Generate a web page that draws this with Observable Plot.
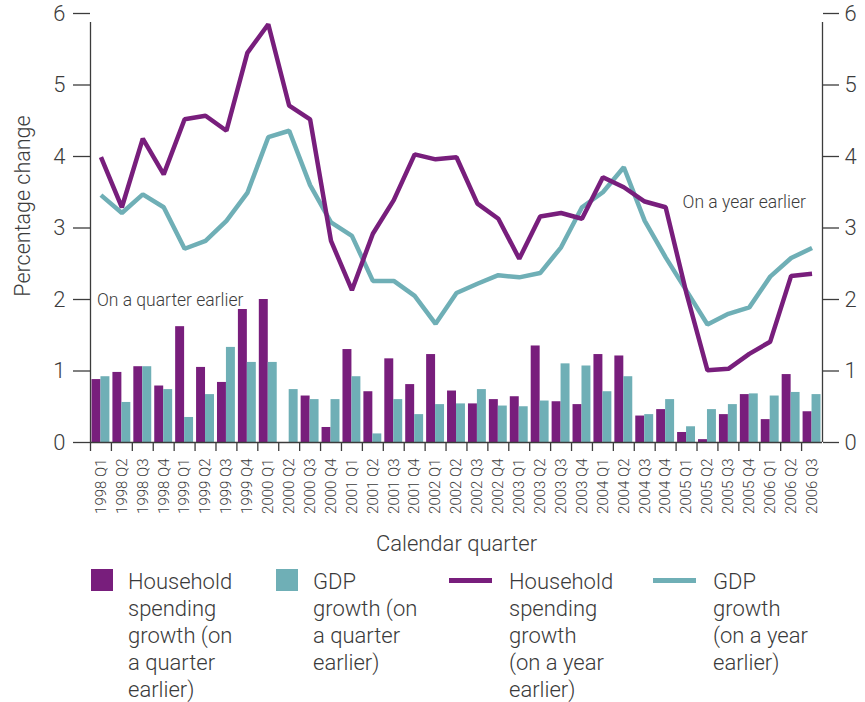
<!DOCTYPE html>
<html>
<head>
<meta charset="utf-8">
<script src="https://cdn.jsdelivr.net/npm/d3@7"></script>
<script src="https://cdn.jsdelivr.net/npm/@observablehq/plot@0.6"></script>
<style>
  html, body { margin: 0; padding: 0; background: #fff; }
  #wrap { position: relative; width: 865px; height: 702px; font-family: Roboto, "Liberation Sans", sans-serif; font-weight: 300; color: #3a3a3a; }
  .leg { position: absolute; top: 568px; font-size: 22px; line-height: 27px; }
  .leg .sw { position: absolute; }
  .leg .tx { position: absolute; top: 0; white-space: pre; }
</style>
</head>
<body>
<div id="wrap"><div id="chart"></div><div id="legend"></div></div>
<script>
const quarters = [
  "1998 Q1","1998 Q2","1998 Q3","1998 Q4",
  "1999 Q1","1999 Q2","1999 Q3","1999 Q4",
  "2000 Q1","2000 Q2","2000 Q3","2000 Q4",
  "2001 Q1","2001 Q2","2001 Q3","2001 Q4",
  "2002 Q1","2002 Q2","2002 Q3","2002 Q4",
  "2003 Q1","2003 Q2","2003 Q3","2003 Q4",
  "2004 Q1","2004 Q2","2004 Q3","2004 Q4",
  "2005 Q1","2005 Q2","2005 Q3","2005 Q4",
  "2006 Q1","2006 Q2","2006 Q3"
];
// Household spending growth, on a quarter earlier (bars)
const householdQuarter = [0.88,0.98,1.06,0.79, 1.62,1.05,0.84,1.86, 2.00,0.00,0.65,0.21, 1.30,0.71,1.17,0.81, 1.23,0.72,0.54,0.60, 0.64,1.35,0.57,0.53, 1.23,1.21,0.37,0.46, 0.14,0.04,0.39,0.67, 0.32,0.95,0.43];
// GDP growth, on a quarter earlier (bars)
const gdpQuarter = [0.92,0.56,1.06,0.74, 0.35,0.67,1.33,1.12, 1.12,0.74,0.60,0.60, 0.92,0.12,0.60,0.39, 0.53,0.54,0.74,0.51, 0.50,0.58,1.10,1.07, 0.71,0.92,0.39,0.60, 0.22,0.46,0.53,0.68, 0.65,0.70,0.67];
// Household spending growth, on a year earlier (line)
const householdYear = [3.99,3.29,4.25,3.75, 4.52,4.57,4.36,5.45, 5.85,4.71,4.52,2.82, 2.13,2.92,3.39,4.03, 3.96,3.99,3.34,3.13, 2.57,3.16,3.21,3.13, 3.71,3.57,3.37,3.29, 2.08,1.01,1.03,1.24, 1.41,2.33,2.36];
// GDP growth, on a year earlier (line)
const gdpYear = [3.46,3.21,3.47,3.29, 2.71,2.82,3.10,3.49, 4.27,4.36,3.60,3.08, 2.89,2.26,2.26,2.05, 1.66,2.09,2.22,2.34, 2.31,2.37,2.73,3.29, 3.50,3.85,3.10,2.59, 2.12,1.65,1.80,1.89, 2.32,2.58,2.72];
const yTicks = [0,1,2,3,4,5,6];
const annotations = [
  {q: "1998 Q1", v: 1.99, text: "On a quarter earlier"},
  {q: "2005 Q1", v: 3.36, text: "On a year earlier"}
];
const legendItems = [
  {label: "Household\nspending\ngrowth (on\na quarter\nearlier)", kind: "bar", color: "purple"},
  {label: "GDP\ngrowth (on\na quarter\nearlier)", kind: "bar", color: "teal"},
  {label: "Household\nspending\ngrowth\n(on a year\nearlier)", kind: "line", color: "purple"},
  {label: "GDP\ngrowth\n(on a year\nearlier)", kind: "line", color: "teal"}
];

const PURPLE = "#781e7c";
const TEAL = "#6fafb6";
const AXIS = "#3c3c3c";
const colors = {purple: PURPLE, teal: TEAL};

const rows = quarters.map((q, i) => ({q, hq: householdQuarter[i], gq: gdpQuarter[i], hy: householdYear[i], gy: gdpYear[i]}));

const W = 865, H = 560, mL = 90, mR = 43, mT = 13, mB = 118;
const step = (W - mL - mR) / quarters.length;

const chart = Plot.plot({
  width: W, height: H,
  marginLeft: mL, marginRight: mR, marginTop: mT, marginBottom: mB,
  style: {fontFamily: "Roboto, 'Liberation Sans', sans-serif", fontWeight: 300, color: AXIS, background: "#fff", overflow: "visible"},
  x: {type: "band", domain: quarters, padding: 0, axis: null},
  y: {domain: [0, 6], axis: null},
  marks: [
    Plot.barY(rows, {x: "q", y: "hq", fill: PURPLE, insetLeft: 1.5, insetRight: step / 2}),
    Plot.barY(rows, {x: "q", y: "gq", fill: TEAL, insetLeft: step / 2, insetRight: 1.5}),
    Plot.line(rows, {x: "q", y: "gy", stroke: TEAL, strokeWidth: 4.5, strokeLinejoin: "miter", strokeLinecap: "butt"}),
    Plot.line(rows, {x: "q", y: "hy", stroke: PURPLE, strokeWidth: 4.5, strokeLinejoin: "miter", strokeLinecap: "butt"}),
    Plot.ruleY([0], {stroke: AXIS, strokeWidth: 1.5}),
    Plot.ruleX([quarters[0]], {y1: 0, y2: 6, dx: -step / 2, stroke: AXIS, strokeWidth: 1.3, insetBottom: -9}),
    Plot.ruleX([quarters[quarters.length - 1]], {y1: 0, y2: 6, dx: step / 2, stroke: AXIS, strokeWidth: 1.3, insetBottom: -9}),
    Plot.axisY({anchor: "left", ticks: yTicks, tickFormat: "d", tickSize: 17, tickPadding: 8, fontSize: 22, label: null, stroke: AXIS, strokeWidth: 1.3}),
    Plot.axisY({anchor: "right", ticks: yTicks, tickFormat: "d", tickSize: 16, tickPadding: 6, fontSize: 22, label: null, stroke: AXIS, strokeWidth: 1.3}),
    Plot.axisX({ticks: quarters, tickSize: 9, tickFormat: () => "", dx: -step / 2, label: null, stroke: AXIS, strokeWidth: 1.3}),
    Plot.axisX({ticks: quarters, tickSize: 0, tickPadding: 16, tickRotate: -90, fontSize: 15, label: null}),
    Plot.text(["Percentage change"], {frameAnchor: "left", textAnchor: "middle", rotate: -90, dx: -67, dy: -22, fontSize: 21.5, fill: AXIS}),
    Plot.text(["Calendar quarter"], {frameAnchor: "bottom", dy: 108, fontSize: 22, fill: AXIS}),
    Plot.text(annotations, {x: "q", y: "v", text: "text", textAnchor: "start", dx: -4, fontSize: 17.5, fill: AXIS})
  ]
});
document.getElementById("chart").appendChild(chart);

// Legend
const legPos = [
  {sw: 91, tx: 128},
  {sw: 276, tx: 313},
  {sw: 449, tx: 509},
  {sw: 653, tx: 713}
];
const legend = document.getElementById("legend");
legendItems.forEach((it, i) => {
  const p = legPos[i];
  const d = document.createElement("div");
  d.className = "leg";
  d.style.left = "0px";
  const sw = document.createElement("div");
  sw.className = "sw";
  sw.style.background = colors[it.color];
  if (it.kind === "bar") {
    sw.style.left = p.sw + "px"; sw.style.top = "1px"; sw.style.width = "22px"; sw.style.height = "22px";
  } else {
    sw.style.left = p.sw + "px"; sw.style.top = "10px"; sw.style.width = "43px"; sw.style.height = "5px";
  }
  const tx = document.createElement("div");
  tx.className = "tx";
  tx.style.left = p.tx + "px";
  tx.textContent = it.label;
  d.appendChild(sw); d.appendChild(tx);
  legend.appendChild(d);
});
</script>
</body>
</html>
